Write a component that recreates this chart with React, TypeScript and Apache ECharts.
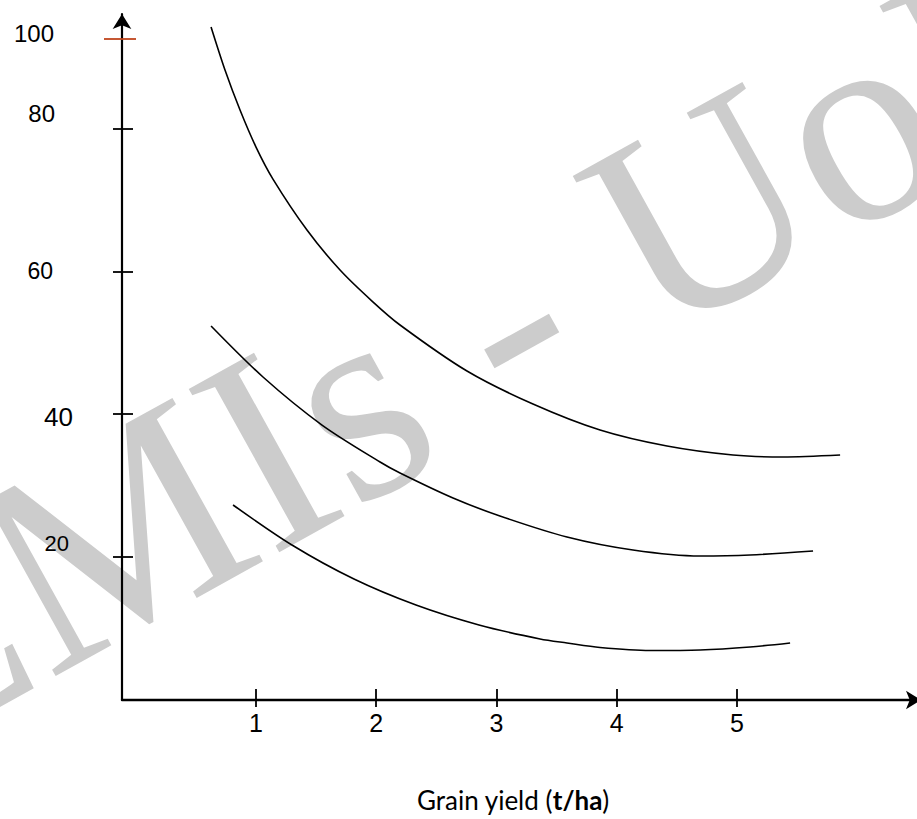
import React, { useEffect, useRef } from "react";
import * as echarts from "echarts";

// Axis ticks / labels (the "100" tick sits lower than a linear scale would put it)
const xTickValues = [1, 2, 3, 4, 5];
const yTickValues = [20, 40, 60, 80, 92.6];
const yTickLabels = ["20", "40", "60", "80", "100"];
const yBlackTicks = [20, 40, 60, 80];
const yRedTicks = [92.6];

// Curve 1 (top)
const curve1X = [0.626, 0.742, 0.867, 1.0, 1.141, 1.424, 1.699, 1.965, 2.198, 2.755, 3.304, 3.862, 4.419, 4.968, 5.384, 5.859];
const curve1Y = [94.18, 88.16, 82.56, 77.38, 72.9, 65.77, 60.17, 55.83, 52.48, 46.04, 41.42, 37.78, 35.54, 34.28, 34.01, 34.28];

// Curve 2 (middle)
const curve2X = [0.626, 1.058, 1.549, 2.032, 2.198, 2.639, 3.029, 3.587, 4.136, 4.694, 5.11, 5.634];
const curve2Y = [52.34, 45.2, 38.48, 33.31, 31.77, 28.27, 25.75, 22.81, 20.99, 20.15, 20.29, 20.85];

// Curve 3 (bottom)
const curve3X = [0.809, 1.299, 1.815, 2.331, 2.855, 3.363, 3.587, 3.862, 4.278, 4.694, 5.11, 5.443];
const curve3Y = [27.29, 21.69, 16.93, 13.29, 10.5, 8.54, 7.98, 7.35, 6.93, 7.0, 7.42, 7.98];

const xTitle = "Grain yield ";
const xTitleBold = "t/ha";
const watermark = "EMIs - UoN";

const X_MIN = -0.1148;
const X_MAX = 6.532;
const Y_MIN = 0;
const Y_MAX = 96;

// per-label look of the y tick labels (hand-placed in the original)
const yLabelLook = [
  { fontSize: 22, margin: 53, verticalAlign: "bottom", lineHeight: 28 },
  { fontSize: 26, margin: 49, verticalAlign: "top", lineHeight: 6 },
  { fontSize: 23, margin: 69, verticalAlign: "middle", lineHeight: 23 },
  { fontSize: 24, margin: 67, verticalAlign: "bottom", lineHeight: 30 },
  { fontSize: 24, margin: 68, verticalAlign: "bottom", lineHeight: 10 },
];

function pairs(xs: number[], ys: number[]) {
  return xs.map((x, i) => [x, ys[i]]);
}

export default function App() {
  const ref = useRef<HTMLDivElement>(null);

  useEffect(() => {
    if (!ref.current) return;
    const chart = echarts.init(ref.current, undefined, { renderer: "svg" });

    const numFont = "Liberation Sans";

    const baseY = {
      type: "value",
      min: Y_MIN,
      max: Y_MAX,
      position: "left",
      offset: 0,
      splitLine: { show: false },
    };
    const baseX = {
      type: "value",
      min: X_MIN,
      max: X_MAX,
      position: "bottom",
      offset: 0,
      splitLine: { show: false },
    };

    const lineSeries = (name: string, xs: number[], ys: number[]) => ({
      name,
      type: "line",
      xAxisIndex: 0,
      yAxisIndex: 0,
      data: pairs(xs, ys),
      smooth: 0.3,
      symbol: "none",
      lineStyle: { color: "#000", width: 1.6 },
      z: 3,
    });

    const labelAxes = yTickValues.map((v, i) => ({
      ...baseY,
      axisLine: { show: false, onZero: false },
      axisTick: { show: false },
      axisLabel: {
        show: true,
        customValues: [v],
        formatter: () => yTickLabels[i],
        margin: yLabelLook[i].margin,
        verticalAlign: yLabelLook[i].verticalAlign,
        lineHeight: yLabelLook[i].lineHeight,
        fontSize: yLabelLook[i].fontSize,
        fontFamily: numFont,
        color: "#000",
      },
    }));

    chart.setOption({
      animation: false,
      backgroundColor: "#fff",
      grid: {
        left: 122,
        right: -4,
        top: 14,
        bottom: 119,
        containLabel: false,
        outerBoundsMode: "none",
      },
      xAxis: [
        {
          ...baseX,
          name: `${xTitle}({b|${xTitleBold}})`,
          nameLocation: "middle",
          nameGap: 87,
          nameTextStyle: {
            fontFamily: "Lato",
            fontSize: 26,
            color: "#000",
            padding: [0, 17, 0, 0],
            rich: {
              b: { fontFamily: "Lato", fontSize: 26, fontWeight: "bold", color: "#000" },
            },
          },
          axisLine: {
            show: true,
            onZero: false,
            lineStyle: { color: "#000", width: 2.4 },
            symbol: ["none", "arrow"],
            symbolSize: [14, 15],
          },
          axisTick: {
            show: true,
            customValues: xTickValues,
            length: 7,
            lineStyle: { color: "#000", width: 1.8 },
          },
          axisLabel: {
            show: true,
            customValues: xTickValues,
            margin: 10,
            fontSize: 25,
            fontFamily: numFont,
            color: "#000",
          },
        },
        {
          ...baseX,
          axisLine: { show: false, onZero: false },
          axisLabel: { show: false },
          axisTick: {
            show: true,
            inside: true,
            customValues: xTickValues,
            length: 11,
            lineStyle: { color: "#000", width: 1.8 },
          },
        },
      ],
      yAxis: [
        {
          ...baseY,
          axisLine: {
            show: true,
            onZero: false,
            lineStyle: { color: "#000", width: 2.2 },
            symbol: ["none", "arrow"],
            symbolSize: [14, 15],
          },
          axisTick: {
            show: true,
            customValues: yBlackTicks,
            length: 9,
            lineStyle: { color: "#000", width: 1.8 },
          },
          axisLabel: { show: false },
        },
        {
          ...baseY,
          axisLine: { show: false, onZero: false },
          axisLabel: { show: false },
          axisTick: {
            show: true,
            inside: true,
            customValues: yBlackTicks,
            length: 11,
            lineStyle: { color: "#000", width: 1.8 },
          },
        },
        {
          ...baseY,
          axisLine: { show: false, onZero: false },
          axisLabel: { show: false },
          axisTick: {
            show: true,
            customValues: yRedTicks,
            length: 18,
            lineStyle: { color: "#C0461E", width: 1.8 },
          },
        },
        {
          ...baseY,
          axisLine: { show: false, onZero: false },
          axisLabel: { show: false },
          axisTick: {
            show: true,
            inside: true,
            customValues: yRedTicks,
            length: 14,
            lineStyle: { color: "#C0461E", width: 1.8 },
          },
        },
        ...labelAxes,
      ],
      graphic: {
        elements: [
          {
            type: "text",
            x: 473,
            y: 335,
            rotation: (29 * Math.PI) / 180,
            z: -10,
            silent: true,
            style: {
              text: watermark,
              fill: "#cccccc",
              fontSize: 285,
              fontFamily: "Liberation Serif",
              align: "center",
              verticalAlign: "middle",
            },
          },
        ],
      },
      series: [
        lineSeries("Curve 1", curve1X, curve1Y),
        lineSeries("Curve 2", curve2X, curve2Y),
        lineSeries("Curve 3", curve3X, curve3Y),
      ],
    });

    return () => chart.dispose();
  }, []);

  return (
    <div
      ref={ref}
      style={{ position: "fixed", left: 0, top: 0, width: 917, height: 819, background: "#fff" }}
    />
  );
}
